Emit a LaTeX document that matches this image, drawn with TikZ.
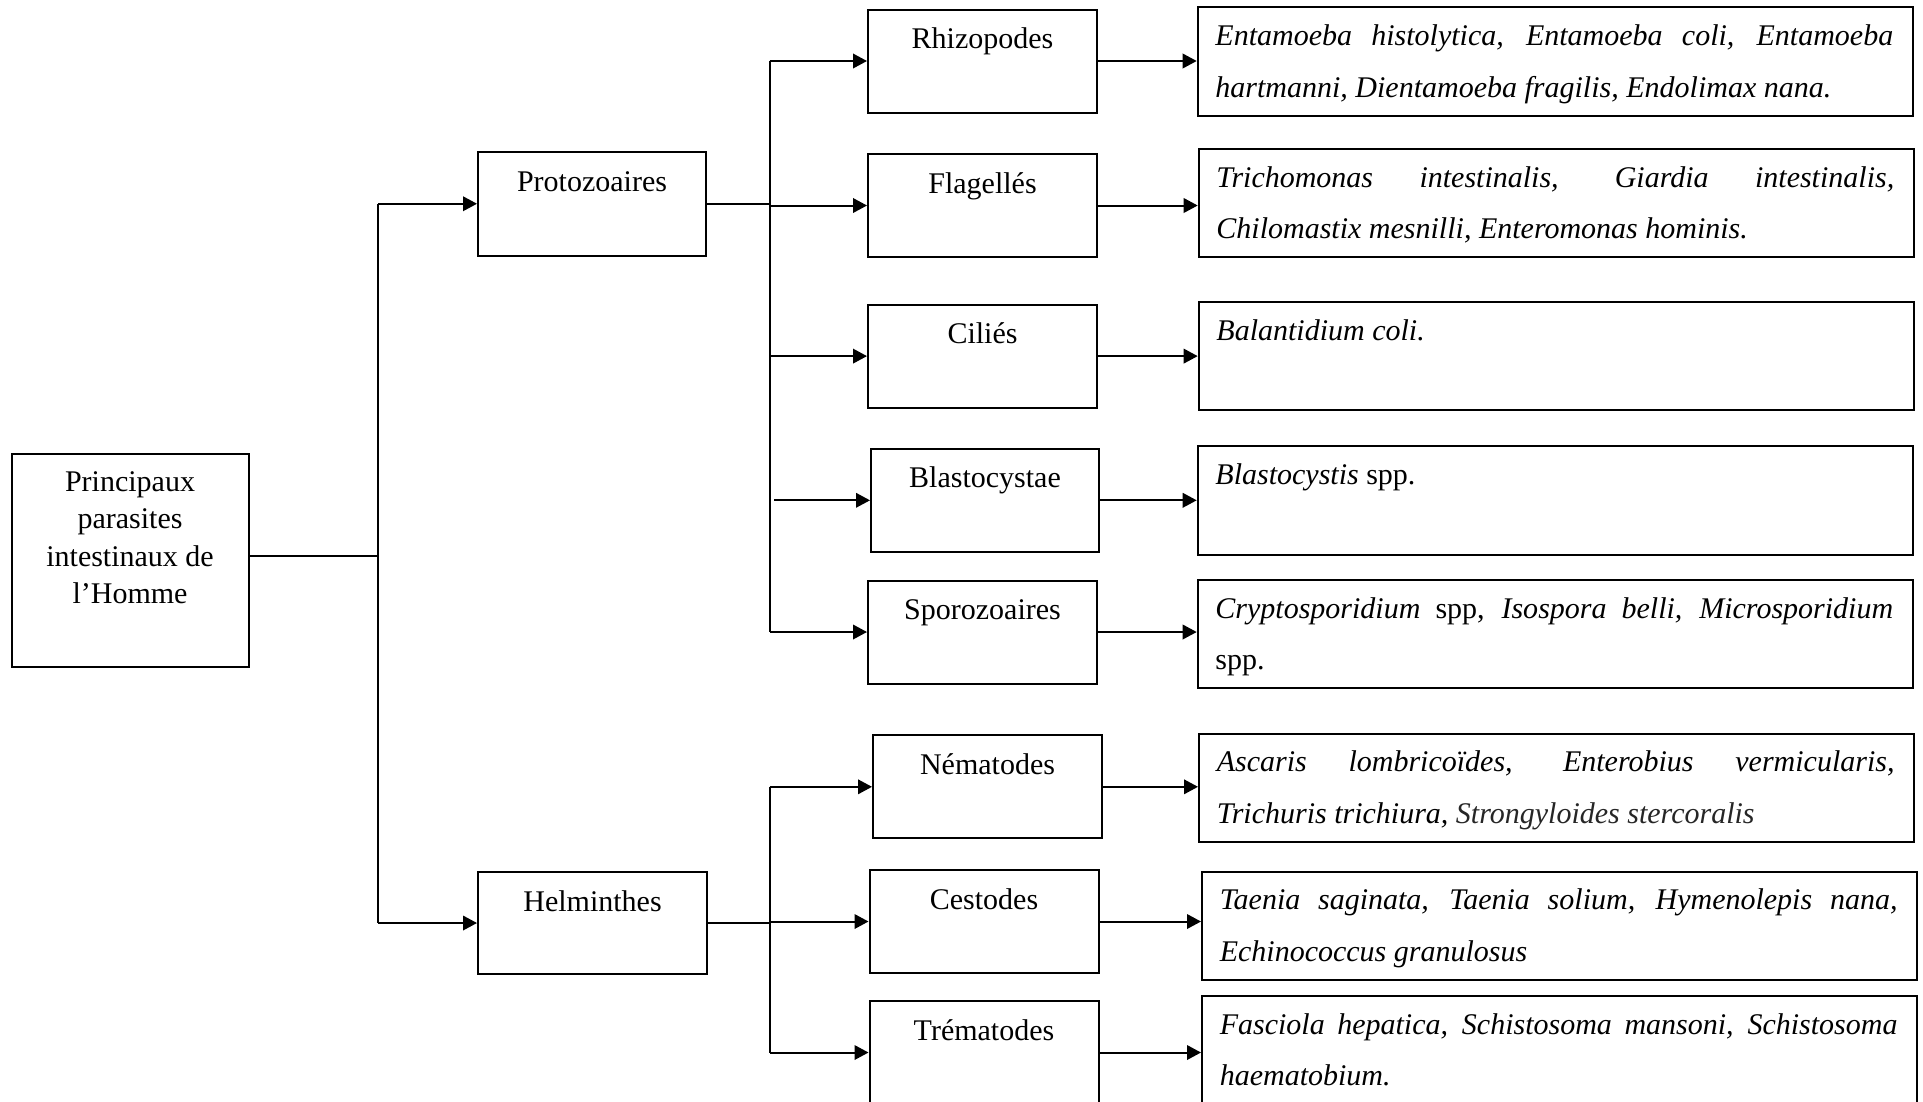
\documentclass[tikz,border=0pt]{standalone}
\usepackage{fontspec}
\setmainfont{Liberation Serif}
\usetikzlibrary{arrows.meta}
\newcommand{\catlbl}[3]{\parbox[t][#2][t]{#1}{\centering\fontsize{12}{15}\selectfont\rule{0pt}{15.6pt}#3}}
\newcommand{\speclbl}[1]{\parbox[t][43.3pt][t]{286pt}{\fontsize{12}{20.6}\selectfont\itshape\leftskip=7.1pt\rightskip=7.8pt\hyphenpenalty=10000\exhyphenpenalty=10000\rule{0pt}{15.3pt}#1}}
\tikzset{
  box/.style={draw, line width=0.8pt, inner sep=0pt, anchor=north west},
  link/.style={line width=0.8pt},
  arr/.style={link, -{Triangle[length=5.6pt,width=5.8pt]}},
}
\begin{document}
\begin{tikzpicture}[x=0.4pt, y=-0.4pt]
\path[use as bounding box] (0,0) rectangle (1923,1101);
\clip (0,0) rectangle (1923,1101);

% root
\node[box] (root) at (10.5,453.3) {\parbox[t][84.9pt][t]{94.84pt}{\centering\fontsize{12}{15}\selectfont\rule{0pt}{14.7pt}Principaux\\parasites\\intestinaux de\\l’Homme}};

% level 1
\node[box] (proto) at (477,151) {\catlbl{91.2pt}{41.4pt}{Protozoaires}};
\node[box] (helm) at (477,871) {\catlbl{91.6pt}{40.8pt}{Helminthes}};

% level 2
\node[box] (rhizo) at (867,8.5) {\catlbl{91.6pt}{41.2pt}{Rhizopodes}};
\node[box] (flag) at (867,153) {\catlbl{91.6pt}{41.2pt}{Flagellés}};
\node[box] (cilies) at (867,303.6) {\catlbl{91.6pt}{41.2pt}{Ciliés}};
\node[box] (blasto) at (870,447.8) {\catlbl{91.2pt}{41.2pt}{Blastocystae}};
\node[box] (sporo) at (867,579.5) {\catlbl{91.6pt}{41.2pt}{Sporozoaires}};
\node[box] (nema) at (872,734.3) {\catlbl{91.6pt}{41.2pt}{Nématodes}};
\node[box] (cesto) at (868.5,869) {\catlbl{91.6pt}{41.2pt}{Cestodes}};
\node[box] (trema) at (868.5,1000) {\catlbl{91.6pt}{41.2pt}{Trématodes}};

% species boxes
\node[box] (t1) at (1196.7,6.4) {\speclbl{Entamoeba histolytica, Entamoeba coli, Entamoeba\linebreak hartmanni, Dientamoeba fragilis, Endolimax nana.}};
\node[box] (t2) at (1197.7,148) {\speclbl{Trichomonas intestinalis, Giardia intestinalis,\linebreak Chilomastix mesnilli, Enteromonas hominis.}};
\node[box] (t3) at (1197.7,301) {\speclbl{Balantidium coli.}};
\node[box] (t4) at (1196.7,445.4) {\speclbl{Blastocystis {\upshape spp.}}};
\node[box] (t5) at (1196.7,579) {\speclbl{Cryptosporidium {\upshape spp,} Isospora belli, Microsporidium\linebreak {\upshape spp.}}};
\node[box] (t6) at (1198,732.5) {\speclbl{Ascaris lombricoïdes, Enterobius vermicularis,\linebreak Trichuris trichiura, \textcolor{black!85}{Strongyloides stercoralis}}};
\node[box] (t7) at (1201,870.6) {\speclbl{Taenia saginata, Taenia solium, Hymenolepis nana,\linebreak Echinococcus granulosus}};
\node[box] (t8) at (1201,994.8) {\speclbl{Fasciola hepatica, Schistosoma mansoni, Schistosoma\linebreak haematobium.}};

% root -> level 1
\coordinate (rj) at (378,556);
\draw[link] (root.east |- rj) -- (rj);
\draw[link] (proto.west -| rj) -- (helm.west -| rj);
\draw[arr] (proto.west -| rj) -- (proto.west);
\draw[arr] (helm.west -| rj) -- (helm.west);

% protozoa trunk
\coordinate (pj) at (769.5,204.5);
\draw[link] (proto.east) -- (proto.east -| pj);
\draw[link] (rhizo.west -| pj) -- (sporo.west -| pj);
\foreach \n in {rhizo,flag,cilies,sporo}{
  \draw[arr] (\n.west -| pj) -- (\n.west);
}
\draw[arr] ([xshift=1.8pt]blasto.west -| pj) -- (blasto.west);

% helminth trunk
\coordinate (hj) at (769.5,920);
\draw[link] (helm.east) -- (helm.east -| hj);
\draw[link] (nema.west -| hj) -- (trema.west -| hj);
\foreach \n in {nema,cesto,trema}{
  \draw[arr] (\n.west -| hj) -- (\n.west);
}

% level 2 -> species
\draw[arr] (rhizo.east) -- (rhizo.east -| t1.west);
\draw[arr] (flag.east) -- (flag.east -| t2.west);
\draw[arr] (cilies.east) -- (cilies.east -| t3.west);
\draw[arr] (blasto.east) -- (blasto.east -| t4.west);
\draw[arr] (sporo.east) -- (sporo.east -| t5.west);
\draw[arr] (nema.east) -- (nema.east -| t6.west);
\draw[arr] (cesto.east) -- (cesto.east -| t7.west);
\draw[arr] (trema.east) -- (trema.east -| t8.west);
\end{tikzpicture}
\end{document}
